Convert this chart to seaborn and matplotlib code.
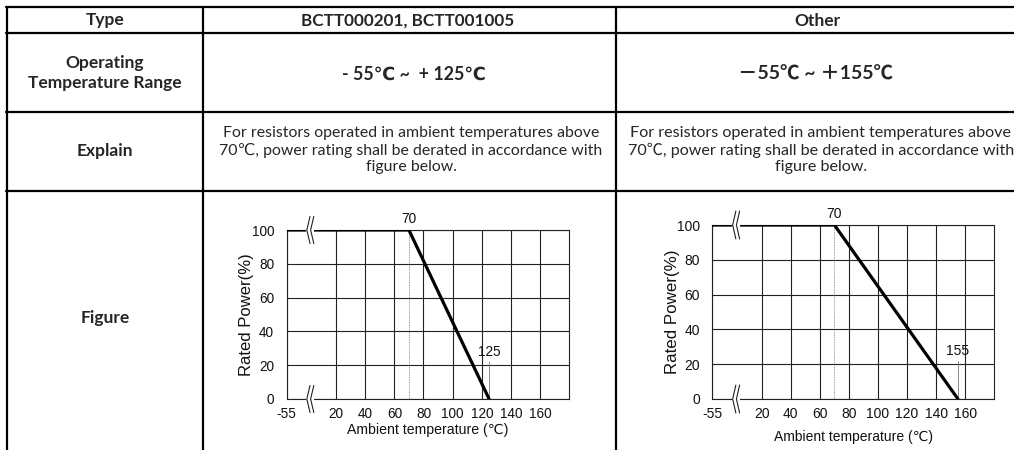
import numpy as np
import pandas as pd
import matplotlib
matplotlib.use("Agg")
import matplotlib.pyplot as plt
import seaborn as sns
from matplotlib.lines import Line2D

# ---------------- data ----------------
header_labels = ["Type", "BCTT000201, BCTT001005", "Other"]
row_labels = ["Operating\nTemperature Range", "Explain", "Figure"]
temp_ranges = ["- 55℃ ~  + 125℃", "－55℃ ~ ＋155℃"]
explain_text = ("For resistors operated in ambient temperatures above\n"
                "70℃, power rating shall be derated in accordance with\n"
                "figure below.")

temp_a = [-55, 70, 125]
temp_b = [-55, 70, 155]
power = [100, 100, 0]
knee_temp = 70
xtick_vals = [-55, 20, 40, 60, 80, 100, 120, 140, 160]
ytick_vals = [0, 20, 40, 60, 80, 100]
x_max = 180
xlabel = "Ambient temperature (℃)"
ylabel = "Rated Power(%)"

# ---------------- setup ----------------
sns.set_style("white")
plt.rcParams["font.family"] = ["Liberation Sans", "DejaVu Sans"]

W, H = 1014, 450
fig = plt.figure(figsize=(W / 100, H / 100), dpi=100)
fig.patch.set_facecolor("white")


def fx(x):
    return x / W


def fy(y):
    return 1 - y / H


# table lines
tlw = 1.6
for x in [7, 203, 616]:
    fig.add_artist(Line2D([fx(x), fx(x)], [fy(7), fy(452)], color="black", lw=tlw))
for y in [7, 33, 111.5, 190.5]:
    fig.add_artist(Line2D([fx(6), fx(1016)], [fy(y), fy(y)], color="black", lw=tlw))

TFONT = ["Lato", "DejaVu Sans"]
TFONT_CJK = ["Lato", "Noto Sans CJK SC"]

# header
fig.text(fx(105), fy(20.5), header_labels[0], ha="center", va="center",
         fontsize=12.5, fontweight="bold", family=TFONT)
fig.text(fx(408), fy(20.5), header_labels[1], ha="center", va="center",
         fontsize=12.3, fontweight="bold", family=TFONT)
fig.text(fx(817), fy(20.5), header_labels[2], ha="center", va="center",
         fontsize=12.5, fontweight="bold", family=TFONT)

# row labels
fig.text(fx(105), fy(73), row_labels[0], ha="center", va="center",
         fontsize=12.5, fontweight="bold", family=TFONT, linespacing=1.25)
fig.text(fx(105), fy(151), row_labels[1], ha="center", va="center",
         fontsize=12.5, fontweight="bold", family=TFONT)
fig.text(fx(105), fy(318), row_labels[2], ha="center", va="center",
         fontsize=12.5, fontweight="bold", family=TFONT)

# temperature ranges
fig.text(fx(414), fy(74), temp_ranges[0], ha="center", va="center",
         fontsize=12.8, fontweight="bold", family=TFONT)
fig.text(fx(816), fy(74), temp_ranges[1], ha="center", va="center",
         fontsize=14, fontweight="bold", family=TFONT_CJK)

# explain
fig.text(fx(411), fy(150), explain_text, ha="center", va="center",
         fontsize=11.4, family=TFONT, linespacing=1.22)
fig.text(fx(821), fy(150), explain_text, ha="center", va="center",
         fontsize=11.6, family=TFONT_CJK, linespacing=1.2)


# ---------------- charts ----------------
def draw_chart(box, temps, lo, end_label, xlab_y, fs, yfs, xfs):
    x0, x1, ytop, ybot = box
    ax = fig.add_axes([fx(x0), fy(ybot), fx(x1 - x0), (ybot - ytop) / H])

    def pos(t):
        t = np.asarray(t, dtype=float)
        return np.where(t < 20, 20 + (t - 20) * (20 - lo) / 75.0, t)

    df = pd.DataFrame({"u": pos(temps), "power": power})
    ax.set_xlim(lo, x_max)
    ax.set_ylim(0, 100)

    # guide at knee
    ax.plot([knee_temp, knee_temp], [0, 100], color="#777777", lw=0.6,
            ls=(0, (1, 1)), zorder=1)
    # end marker
    ax.plot([temps[-1], temps[-1]], [0, 22], color="#777777", lw=0.6, zorder=1)

    sns.lineplot(data=df, x="u", y="power", sort=False, estimator=None,
                 color="black", linewidth=2.3, ax=ax, zorder=4)

    ax.set_xticks(pos(xtick_vals))
    ax.set_xticklabels([str(v) for v in xtick_vals])
    ax.set_yticks(ytick_vals)
    ax.set_yticklabels([str(v) for v in ytick_vals])
    ax.tick_params(axis="both", length=0, labelsize=fs, colors="#111111")
    ax.tick_params(axis="x", pad=6)
    ax.tick_params(axis="y", pad=9)
    ax.grid(True, color="#222222", lw=0.8)
    for s in ax.spines.values():
        s.set_visible(True)
        s.set_color("#222222")
        s.set_linewidth(0.8)

    ax.set_xlabel(xlabel, fontsize=xfs, color="#111111")
    ax.set_ylabel(ylabel, fontsize=yfs, color="#111111")
    lab_off_x = (xlab_y - ybot) / (ybot - ytop)
    ax.xaxis.set_label_coords(0.5, -lab_off_x)
    ax.xaxis.label.set_va("center")
    ax.yaxis.set_label_coords(-40 / (x1 - x0), 0.5)
    ax.yaxis.label.set_va("center")

    # axis breaks
    for yv in [0, 100]:
        ax.plot([-0.5, 5.0], [yv, yv], color="white", lw=4, zorder=5,
                clip_on=False, solid_capstyle="butt")
        for b in [0.0, 2.6]:
            ax.plot([b + 2.2, b, b + 2.2], [yv + 8, yv, yv - 8], color="#222222",
                    lw=0.8, zorder=6, clip_on=False)

    ax.annotate(str(knee_temp), (knee_temp, 100), xytext=(0, 8),
                textcoords="offset points", ha="center", va="center",
                fontsize=fs, color="#111111")
    ax.annotate(str(end_label), (temps[-1], 22), xytext=(0, 2),
                textcoords="offset points", ha="center", va="bottom",
                fontsize=fs, color="#111111")
    return ax


draw_chart((286.7, 569.3, 230, 399), temp_a, -13.8, temp_a[-1], 430, 9.8, 12.0, 10.2)
draw_chart((712.3, 994.3, 225, 399), temp_b, -14.0, temp_b[-1], 437, 10.0, 12.2, 10.0)

fig.savefig("out.png", dpi=100, facecolor="white")
